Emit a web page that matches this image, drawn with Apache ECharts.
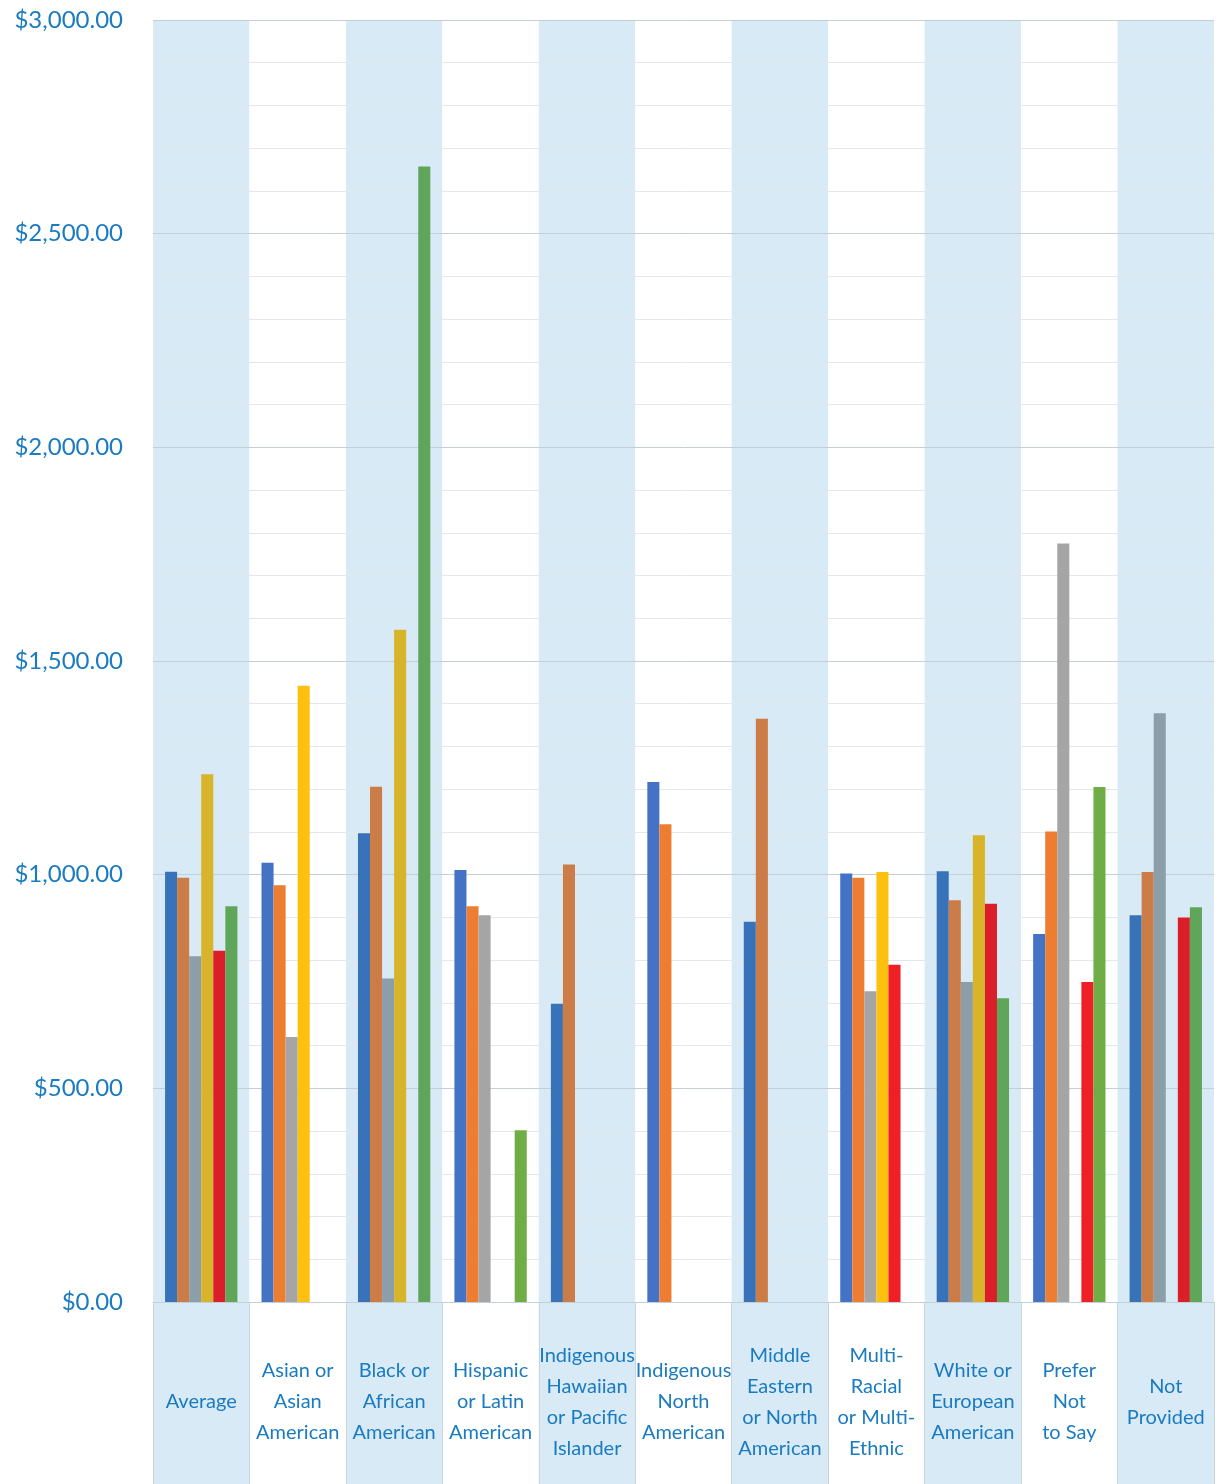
<!DOCTYPE html>
<html>
<head>
<meta charset="utf-8">
<script src="https://cdn.jsdelivr.net/npm/echarts@6/dist/echarts.min.js"></script>
<style>
  html, body { margin: 0; padding: 0; background: #ffffff; }
  #chart { width: 1218px; height: 1484px; }
</style>
</head>
<body>
<div id="chart"></div>
<script>
// Categories (x axis)
const categories = [
  'Average',
  'Asian or\nAsian\nAmerican',
  'Black or\nAfrican\nAmerican',
  'Hispanic\nor Latin\nAmerican',
  'Indigenous\nHawaiian\nor Pacific\nIslander',
  'Indigenous\nNorth\nAmerican',
  'Middle\nEastern\nor North\nAmerican',
  'Multi-\nRacial\nor Multi-\nEthnic',
  'White or\nEuropean\nAmerican',
  'Prefer\nNot\nto Say',
  'Not\nProvided'
];

// Series values (dollars), null = no bar
const series1 = [1007, 1028, 1097, 1011, 698, 1217, 890, 1003, 1008, 861, 905];
const series2 = [993, 975, 1206, 926, 1024, 1118, 1365, 993, 940, 1101, 1006];
const series3 = [809, 620, 757, 905, null, null, null, 727, 749, 1775, 1378];
const series4 = [1235, 1442, 1573, null, null, null, null, 1006, 1092, null, null];
const series5 = [822, null, null, null, null, null, null, 789, 932, 749, 900];
const series6 = [926, null, 2657, 402, null, null, null, null, 711, 1205, 924];

// Y axis ticks
const yMin = 0, yMax = 3000, yStep = 500;

const allSeries = [series1, series2, series3, series4, series5, series6];
const baseColors   = ['#4472c4', '#ed7d31', '#a5a5a5', '#fdc010', '#ee1f25', '#70ad47'];
const shadedColors = ['#3873ba', '#cc7c46', '#8c9ea9', '#d8b42a', '#da1f2a', '#5fa65a'];

const BAND = '#d8eaf5';
const TEXT = '#1a7bc1';
const FONT = 'Lato, "Open Sans", sans-serif';

function money(v) {
  const s = v.toFixed(2);
  const [i, d] = s.split('.');
  return '$' + i.replace(/\B(?=(\d{3})+(?!\d))/g, ',') + '.' + d;
}

const chart = echarts.init(document.getElementById('chart'), null, { renderer: 'canvas' });

const option = {
  animation: false,
  backgroundColor: '#ffffff',
  grid: [
    { left: 153, right: 4, top: 20, bottom: 182, containLabel: false },
    { left: 153, right: 4, top: 1302, bottom: 0, containLabel: false }
  ],
  xAxis: [
    {
      type: 'category',
      gridIndex: 0,
      data: categories,
      z: 1,
      axisTick: { show: false },
      axisLine: { show: true, lineStyle: { color: '#d0d8de', width: 1 } },
      splitArea: { show: true, interval: 0, areaStyle: { color: [BAND, '#ffffff'] } },
      splitLine: { show: false },
      axisLabel: {
        interval: 0,
        margin: 100,
        verticalAlign: 'middle',
        color: TEXT,
        fontSize: 20,
        lineHeight: 31,
        fontFamily: FONT
      }
    },
    {
      type: 'category',
      gridIndex: 1,
      data: categories,
      z: 0,
      axisTick: { show: false },
      axisLabel: { show: false },
      axisLine: { show: false },
      splitArea: { show: true, interval: 0, areaStyle: { color: [BAND, '#ffffff'] } },
      splitLine: { show: true, interval: 0, lineStyle: { color: '#c8d5de', width: 1 } }
    }
  ],
  yAxis: [
    {
      type: 'value',
      gridIndex: 0,
      z: 2,
      min: yMin,
      max: yMax,
      interval: yStep,
      axisLine: { show: false },
      axisTick: { show: false },
      axisLabel: {
        margin: 30,
        color: TEXT,
        fontSize: 24,
        fontFamily: FONT,
        formatter: v => money(v)
      },
      splitLine: { show: true, lineStyle: { color: '#c3ced6', width: 1 } },
      minorTick: { show: false, splitNumber: 5 },
      minorSplitLine: { show: true, lineStyle: { color: '#e3e8eb', width: 1 } }
    },
    {
      type: 'value',
      gridIndex: 1,
      min: 0,
      max: 1,
      show: false,
      splitLine: { show: false }
    }
  ],
  series: allSeries.map((data, i) => ({
    type: 'bar',
    name: 'Series ' + (i + 1),
    xAxisIndex: 0,
    yAxisIndex: 0,
    data: data,
    barGap: '0%',
    barCategoryGap: '25%',
    itemStyle: {
      color: p => (p.dataIndex % 2 === 0 ? shadedColors[i] : baseColors[i])
    },
    z: 4
  }))
};

chart.setOption(option);
</script>
</body>
</html>
